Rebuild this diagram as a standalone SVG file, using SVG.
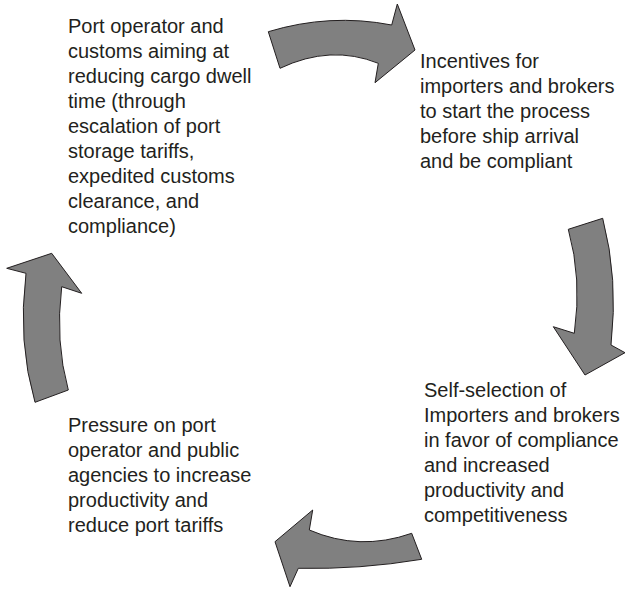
<svg xmlns="http://www.w3.org/2000/svg" width="625" height="589" viewBox="0 0 625 589">
<style>
.arrow{fill:#808080;stroke:#231f20;stroke-width:1;stroke-linejoin:miter}
.lbl{font-family:"Liberation Sans",Arial,sans-serif;font-size:20px;fill:#231f20}
</style>
<rect width="625" height="589" fill="#ffffff"/>
<g id="connectors">
<path id="arrow-top" class="arrow" d="M268.3,31.7 Q330,13 391.7,25 L397.3,4 L415,50 L375,82.7 L378.3,63.3 Q330.8,44.2 280,68.3 Z"/>
<path id="arrow-right" class="arrow" d="M568.3,229.3 L602.7,218.3 Q618.5,279 611,345 L625,352.7 L585,375 L553.3,326.7 L574.3,333.3 Q582.1,278.7 568.3,229.3 Z"/>
<path id="arrow-bottom" class="arrow" d="M411.7,533.3 Q359.5,551.7 309.3,530 L312.7,510 L275,541.7 L290,586.7 L298.3,568.3 Q360,569.6 421.7,559.3 Z"/>
<path id="arrow-left" class="arrow" d="M35,402.3 L68.3,390 Q55,341.6 61.7,286.7 L81.7,293.3 L51.7,253.3 L6.7,268.3 L26,273.3 Q17.5,342.2 35,402.3 Z"/>
</g>
<g id="node-port-operator">
<text class="lbl" x="68" y="32.5">Port operator and</text>
<text class="lbl" x="68" y="57.5">customs aiming at</text>
<text class="lbl" x="68" y="82.5">reducing cargo dwell</text>
<text class="lbl" x="68" y="107.5">time (through</text>
<text class="lbl" x="68" y="132.5">escalation of port</text>
<text class="lbl" x="68" y="157.5">storage tariffs,</text>
<text class="lbl" x="68" y="182.5">expedited customs</text>
<text class="lbl" x="68" y="207.5">clearance, and</text>
<text class="lbl" x="68" y="232.5">compliance)</text>
</g>
<g id="node-incentives">
<text class="lbl" x="420" y="67.5">Incentives for</text>
<text class="lbl" x="420" y="92.5">importers and brokers</text>
<text class="lbl" x="420" y="117.5">to start the process</text>
<text class="lbl" x="420" y="142.5">before ship arrival</text>
<text class="lbl" x="420" y="167.5">and be compliant</text>
</g>
<g id="node-self-selection">
<text class="lbl" x="424" y="396.5">Self-selection of</text>
<text class="lbl" x="424" y="421.5">Importers and brokers</text>
<text class="lbl" x="424" y="446.5">in favor of compliance</text>
<text class="lbl" x="424" y="471.5">and increased</text>
<text class="lbl" x="424" y="496.5">productivity and</text>
<text class="lbl" x="424" y="521.5">competitiveness</text>
</g>
<g id="node-pressure">
<text class="lbl" x="68" y="431.5">Pressure on port</text>
<text class="lbl" x="68" y="456.5">operator and public</text>
<text class="lbl" x="68" y="481.5">agencies to increase</text>
<text class="lbl" x="68" y="506.5">productivity and</text>
<text class="lbl" x="68" y="531.5">reduce port tariffs</text>
</g>
</svg>
